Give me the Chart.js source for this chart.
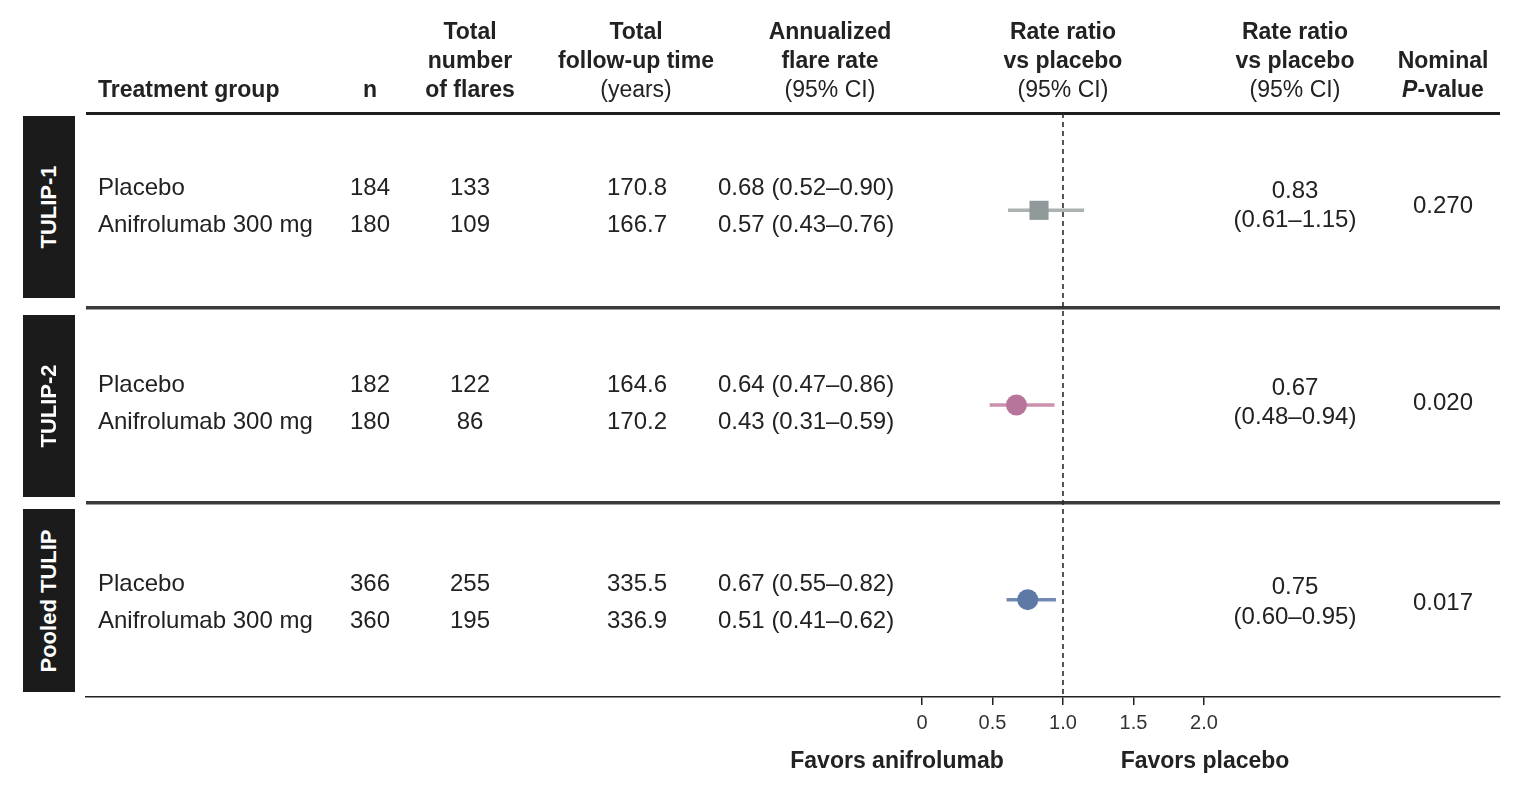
<!DOCTYPE html>
<html>
<head>
<meta charset="utf-8">
<script src="https://cdn.jsdelivr.net/npm/chart.js@4.4.1/dist/chart.umd.min.js"></script>
<style>
  body { margin: 0; background: #fff; }
  #wrap { position: relative; width: 1531px; height: 789px; overflow: hidden;
          font-family: "Liberation Sans", Arial, sans-serif; color: #222; }
  #chart { position: absolute; left: 0; top: 0; }
  .t { position: absolute; white-space: nowrap; font-size: 24px; line-height: 26px; }
  .c { transform: translate(-50%, -50%); text-align: center; }
  .l { transform: translate(0, -50%); }
  .h { position: absolute; white-space: nowrap; font-size: 23px; line-height: 29px;
       font-weight: bold; text-align: center; transform: translateX(-50%); }
  .h.hl { transform: none; text-align: left; }
  .h .r { font-weight: normal; }
  .fav { position: absolute; white-space: nowrap; font-size: 23px; font-weight: bold;
         transform: translate(-50%, -50%); }
  .side { position: absolute; background: #1b1b1b; }
  .side div { position: absolute; left: 50%; top: 50%; color: #fff; font-weight: bold;
              font-size: 22px; white-space: nowrap;
              transform: translate(-50%, -50%) rotate(-90deg); }
</style>
</head>
<body>
<div id="wrap"><canvas id="chart" width="1531" height="789"></canvas></div>
<script>
// --- data ---
const STUDIES  = ['TULIP-1', 'TULIP-2', 'Pooled TULIP'];
const GROUPS   = ['Placebo', 'Anifrolumab 300 mg'];
const N        = [[184, 180], [182, 180], [366, 360]];
const FLARES   = [[133, 109], [122, 86], [255, 195]];
const FOLLOWUP = [[170.8, 166.7], [164.6, 170.2], [335.5, 336.9]];
// annualized flare rate: [estimate, lower, upper]
const AFR = [
  [[0.68, 0.52, 0.90], [0.57, 0.43, 0.76]],
  [[0.64, 0.47, 0.86], [0.43, 0.31, 0.59]],
  [[0.67, 0.55, 0.82], [0.51, 0.41, 0.62]],
];
const RR     = [0.83, 0.67, 0.75];
const RR_LO  = [0.61, 0.48, 0.60];
const RR_HI  = [1.15, 0.94, 0.95];
const PVAL   = ['0.270', '0.020', '0.017'];
const X_TICKS = [0, 0.5, 1, 1.5, 2];
const REF = 1;

// --- styling ---
const MARK = [
  { style: 'rect',   r: 13.5, fill: '#8f9999', line: '#aab2b2' },
  { style: 'circle', r: 10.5, fill: '#b7759b', line: '#cc8fad' },
  { style: 'circle', r: 10.5, fill: '#5f79a6', line: '#7289b2' },
];
// small per-section nudges of the text block (px), as in the figure
const TEXT_SHIFT = [-2, 0, 5];

const fmt2 = v => v.toFixed(2);
const ci = (lo, hi) => `(${fmt2(lo)}\u2013${fmt2(hi)})`;

const datasets = [];
datasets.push({
  type: 'line', order: 0,
  data: [{ x: REF, y: 0 }, { x: REF, y: STUDIES.length }],
  borderColor: '#2a2a2a', borderWidth: 1.6, borderDash: [5, 4], pointRadius: 0,
});
STUDIES.forEach((s, i) => {
  datasets.push({
    type: 'line', order: 2,
    data: [{ x: RR_LO[i], y: i + 0.5 }, { x: RR_HI[i], y: i + 0.5 }],
    borderColor: MARK[i].line, borderWidth: 3.5, pointRadius: 0,
  });
});
datasets.push({
  type: 'scatter', order: 1,
  data: RR.map((v, i) => ({ x: v, y: i + 0.5 })),
  pointStyle: MARK.map(m => m.style),
  pointRadius: MARK.map(m => m.r),
  backgroundColor: MARK.map(m => m.fill),
  borderWidth: 0,
});

const chart = new Chart(document.getElementById('chart'), {
  type: 'scatter',
  data: { datasets },
  options: {
    responsive: false,
    animation: false,
    events: [],
    layout: { padding: { top: 113, left: 86, right: 31, bottom: 0 } },
    plugins: { legend: { display: false }, tooltip: { enabled: false } },
    scales: {
      x: {
        type: 'linear', min: -5.93, max: 4.1,
        afterBuildTicks: s => { s.ticks = X_TICKS.map(v => ({ value: v })); },
        afterFit: s => { s.height = 92; },
        grid: { drawOnChartArea: false, drawTicks: true, tickLength: 8, color: '#222', lineWidth: 1.5 },
        border: { display: true, color: '#222', width: 1.5 },
        ticks: {
          padding: 6, color: '#333',
          font: { family: '"Liberation Sans", Arial, sans-serif', size: 20 },
          callback: v => v === 0 ? '0' : v.toFixed(1),
        },
      },
      y: {
        type: 'linear', min: 0, max: STUDIES.length, reverse: true,
        afterBuildTicks: s => { s.ticks = [0, 1, 2, 3].map(v => ({ value: v })); },
        afterFit: s => { s.width = 0; },
        ticks: { display: false },
        border: { display: false },
        grid: {
          drawTicks: false,
          color: c => c.tick.value === 0 ? '#1e1e1e' : c.tick.value === STUDIES.length ? 'rgba(0,0,0,0)' : '#3a3a3a',
          lineWidth: c => c.tick.value === 0 ? 3 : c.tick.value === STUDIES.length ? 0 : 3.5,
        },
      },
    },
  },
});

// --- table text, placed against the chart scales ---
const wrap = document.getElementById('wrap');
const xs = chart.scales.x, ys = chart.scales.y;

function put(cls, x, y, html) {
  const d = document.createElement('div');
  d.className = cls;
  d.style.left = x + 'px';
  d.style.top = y + 'px';
  d.innerHTML = html;
  wrap.appendChild(d);
  return d;
}

// header: bottom line of each cell sits on the same baseline
const headers = [
  { x: 98, cls: 'h hl', lines: ['Treatment group'] },
  { x: 370, cls: 'h', lines: ['n'] },
  { x: 470, cls: 'h', lines: ['Total', 'number', 'of flares'] },
  { x: 636, cls: 'h', lines: ['Total', 'follow-up time', '<span class="r">(years)</span>'] },
  { x: 830, cls: 'h', lines: ['Annualized', 'flare rate', '<span class="r">(95% CI)</span>'] },
  { x: xs.getPixelForValue(REF), cls: 'h', lines: ['Rate ratio', 'vs placebo', '<span class="r">(95% CI)</span>'] },
  { x: 1295, cls: 'h', lines: ['Rate ratio', 'vs placebo', '<span class="r">(95% CI)</span>'] },
  { x: 1443, cls: 'h', lines: ['Nominal', '<i>P</i>-value'] },
];
headers.forEach(h => put(h.cls, h.x, 104 - 29 * h.lines.length, h.lines.join('<br>')));

STUDIES.forEach((s, i) => {
  const top = ys.getPixelForValue(i), bot = ys.getPixelForValue(i + 1);
  const mid = ys.getPixelForValue(i + 0.5) + TEXT_SHIFT[i];

  const box = put('side', 23, top + (i ? 7 : 3), `<div>${s}</div>`);
  box.style.width = '52px';
  box.style.height = (bot - top - (i ? 12 : 13)) + 'px';

  GROUPS.forEach((g, j) => {
    const y = mid - 3 + (j ? 18.5 : -18.5);
    put('t l', 98, y, g);
    put('t c', 370, y, N[i][j]);
    put('t c', 470, y, FLARES[i][j]);
    put('t c', 637, y, FOLLOWUP[i][j].toFixed(1));
    const a = AFR[i][j];
    put('t l', 718, y, `${fmt2(a[0])} ${ci(a[1], a[2])}`);
  });
  put('t c', 1295, mid - 18.5, fmt2(RR[i]));
  put('t c', 1295, mid + 11, ci(RR_LO[i], RR_HI[i]));
  put('t c', 1443, mid - 3, PVAL[i]);
});

put('fav', 897, 760, 'Favors anifrolumab');
put('fav', 1205, 760, 'Favors placebo');
</script>
</body>
</html>
